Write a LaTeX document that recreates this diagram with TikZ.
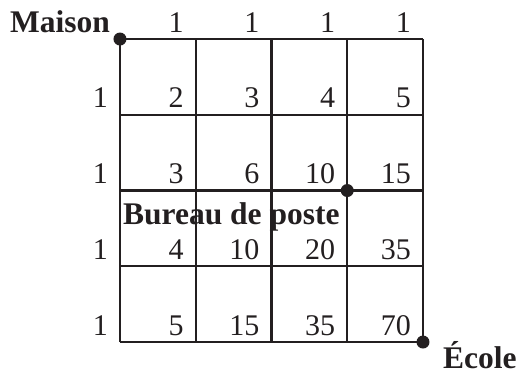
\documentclass[tikz,border=0pt]{standalone}
\usepackage{fontspec}
\setmainfont{Liberation Serif}
\definecolor{ink}{HTML}{231F20}
\begin{document}
\begin{tikzpicture}[x=75.75pt, y=75.75pt,
  num/.style={anchor=base east, inner sep=0pt, text=ink,
              font=\fontsize{30}{32}\selectfont},
  place/.style={inner sep=0pt, text=ink,
                font=\fontsize{31.5}{34}\selectfont\bfseries},
  gridline/.style={draw=ink, line width=2.2pt},
  dot/.style={fill=ink}
]
  \useasboundingbox (-1.584,-0.4224) rectangle (5.241,4.515);
  % corners and the stop on the way
  \coordinate (maison) at (0,4);
  \coordinate (bureau) at (3,2);
  \coordinate (ecole)  at (4,0);
  \draw[gridline, step=1] (0,0) grid (4,4);
  % counts of paths
  \foreach \c in {1,...,4}
    \node[num] (top-\c) at ([shift={(-12pt,7pt)}]\c,4) {1};
  \foreach \r in {1,...,4}
    \node[num] (left-\r) at ([shift={(-12pt,7pt)}]0,4-\r) {1};
  \foreach \vals [count=\r] in {{2,3,4,5},{3,6,10,15},{4,10,20,35},{5,15,35,70}}
    \foreach \v [count=\c] in \vals
      \node[num] (n-\c-\r) at ([shift={(-12pt,7pt)}]\c,4-\r) {\v};
  % places
  \node[place, anchor=base east] (lmaison) at ([shift={(-10pt,7pt)}]maison) {Maison};
  \node[place, anchor=base west] (lbureau) at ([shift={(3pt,-34pt)}]0,2) {Bureau de poste};
  \node[place, anchor=base west] (lecole) at ([shift={(20pt,-26pt)}]ecole) {École};
  \fill[dot] (maison) circle (6.5pt);
  \fill[dot] (bureau) circle (6.5pt);
  \fill[dot] (ecole) circle (6.5pt);
\end{tikzpicture}
\end{document}
